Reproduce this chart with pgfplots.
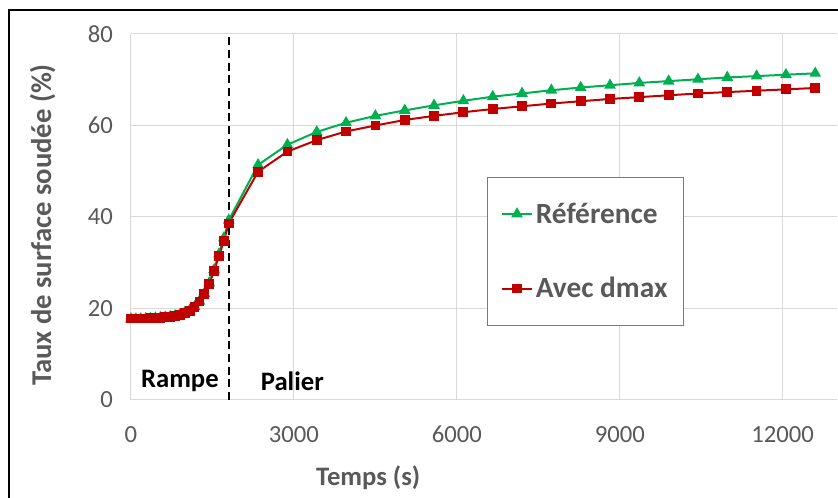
\documentclass[border=0pt]{standalone}
\usepackage{pgfplots}
\pgfplotsset{compat=1.18}
\usepackage{fontspec}
\setmainfont{Carlito}
\definecolor{cgreen}{HTML}{00B050}
\definecolor{cred}{HTML}{C00000}
\definecolor{cgrid}{HTML}{D9D9D9}
\definecolor{ctext}{HTML}{595959}
\begin{document}
\begin{tikzpicture}
\useasboundingbox (-98.25pt,-73.5pt) rectangle (530.25pt,300pt);
\draw[black,line width=1.5pt] (-91.5pt,-80pt) -- (-91.5pt,292.5pt) -- (540pt,292.5pt);
\begin{axis}[
  at={(0pt,0pt)}, anchor=south west,
  scale only axis, width=529.5pt, height=274.5pt,
  xmin=0, xmax=13000, ymin=0, ymax=80,
  xtick={0,3000,6000,9000,12000}, ytick={0,20,40,60,80},
  scaled x ticks=false,
  axis line style={draw=none},
  major tick length=0pt,
  grid=major, major grid style={cgrid, line width=0.75pt},
  /pgf/number format/assume math mode=true,
  /pgf/number format/1000 sep={},
  tick label style={font=\fontsize{18.5}{22}\selectfont, text=ctext},
  xticklabel style={yshift=-16pt},
  yticklabel style={xshift=-10pt},
  xlabel={\textbf{Temps (s)}},
  ylabel={\textbf{Taux de surface soudée (\%)}},
  label style={text=ctext},
  xlabel style={font=\fontsize{20}{24}\selectfont, at={(axis description cs:0.336,-0.213)}, anchor=center},
  ylabel style={font=\fontsize{21.5}{25}\selectfont, at={(axis description cs:-0.125,0.478)}, anchor=center},
  legend style={at={(267pt,167.25pt)}, anchor=north west, draw=ctext!80, line width=0.75pt,
    font=\bfseries\fontsize{22}{26}\selectfont, text=ctext,
    inner xsep=10pt, inner ysep=17pt, row sep=35pt},
  legend cell align=left,
  legend image code/.code={\draw[mark repeat=2,mark phase=2] plot coordinates {(0cm,0cm)(0.4cm,0cm)(0.8cm,0cm)};},
]
\addplot[cgreen, line width=1.5pt, mark=triangle*, mark size=3.6pt, mark options={solid, fill=cgreen, draw=cgreen}]
coordinates {
(0,17.7)(90,17.7)(180,17.7)(270,17.8)(360,17.8)(450,17.9)(540,18.0)(630,18.1)(720,18.2)(810,18.4)
(900,18.7)(990,19.1)(1080,19.6)(1170,20.4)(1260,21.6)(1350,23.3)(1440,25.6)(1530,28.5)(1620,31.9)(1710,35.4)(1800,39.3)
(2340,51.4)(2880,55.8)(3420,58.6)(3960,60.6)(4500,62.1)(5040,63.3)(5580,64.4)(6120,65.4)(6660,66.3)(7200,67.0)
(7740,67.7)(8280,68.3)(8820,68.8)(9360,69.3)(9900,69.7)(10440,70.1)(10980,70.5)(11520,70.8)(12060,71.1)(12600,71.4)
};
\addlegendentry{Référence}
\addplot[cred, line width=1.5pt, mark=square*, mark size=2.9pt, mark options={solid, fill=cred, draw=cred}]
coordinates {
(0,17.8)(90,17.8)(180,17.8)(270,17.8)(360,17.9)(450,17.9)(540,18.0)(630,18.1)(720,18.2)(810,18.4)
(900,18.6)(990,19.0)(1080,19.5)(1170,20.3)(1260,21.5)(1350,23.1)(1440,25.4)(1530,28.2)(1620,31.5)(1710,34.8)(1800,38.6)
(2340,49.9)(2880,54.3)(3420,56.8)(3960,58.7)(4500,60.0)(5040,61.2)(5580,62.1)(6120,62.9)(6660,63.6)(7200,64.2)
(7740,64.8)(8280,65.3)(8820,65.8)(9360,66.2)(9900,66.6)(10440,67.0)(10980,67.3)(11520,67.6)(12060,67.9)(12600,68.2)
};
\addlegendentry{Avec dmax}
\addplot[black, line width=1.5pt, dash pattern=on 6pt off 3.5pt, forget plot] coordinates {(1800,0)(1800,80)};
\node[font=\bfseries\fontsize{20}{24}\selectfont, text=black] at (axis cs:900,4.2) {Rampe};
\node[font=\bfseries\fontsize{20}{24}\selectfont, text=black] at (axis cs:2970,4.2) {Palier};
\end{axis}
\end{tikzpicture}
\end{document}
